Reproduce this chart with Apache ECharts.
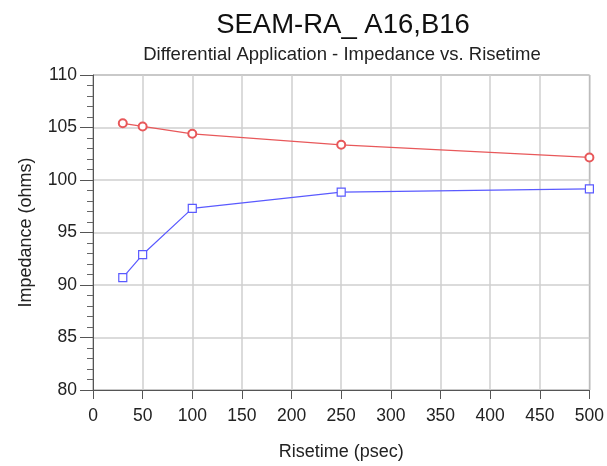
<!DOCTYPE html>
<html>
<head>
<meta charset="utf-8">
<script src="https://cdn.jsdelivr.net/npm/echarts@6/dist/echarts.min.js"></script>
<style>
    html, body { margin: 0; padding: 0; background: #fff; }
    #chart { width: 607px; height: 466px; }
</style>
</head>
<body>
<div id="chart"></div>
<script>
// 数据
const risetime = [30, 50, 100, 250, 500];
const redImpedance = [105.4, 105.1, 104.4, 103.35, 102.15];
const blueImpedance = [90.7, 92.9, 97.3, 98.85, 99.15];

const toPairs = (xs, ys) => xs.map((x, i) => [x, ys[i]]);

const chart = echarts.init(document.getElementById('chart'));
const font = 'Liberation Sans, Arial, sans-serif';

const option = {
    animation: false,
    title: [
        {
            text: 'SEAM-RA_ A16,B16',
            left: 338, top: 6, textAlign: 'center',
            textStyle: { fontFamily: font, fontSize: 27.5, fontWeight: 'normal', color: '#111' }
        },
        {
            text: 'Differential Application - Impedance vs. Risetime',
            left: 337, top: 40, textAlign: 'center',
            textStyle: { fontFamily: font, fontSize: 18.5, fontWeight: 'normal', color: '#222' }
        }
    ],
    grid: { left: 93, right: 16, top: 75, bottom: 75, show: true, borderColor: '#777', borderWidth: 1 },
    xAxis: {
        type: 'value',
        min: 0, max: 500, interval: 50,
        name: 'Risetime (psec)',
        nameLocation: 'middle', nameGap: 53,
        nameTextStyle: { fontFamily: font, fontSize: 18, color: '#222' },
        axisLine: { show: true, lineStyle: { color: '#555' } },
        axisTick: { show: true, length: 9, lineStyle: { color: '#555' } },
        axisLabel: { fontFamily: font, fontSize: 17.5, color: '#222', margin: 17 },
        splitLine: { show: true, lineStyle: { color: '#cfcfcf', width: 1.5 } }
    },
    yAxis: {
        type: 'value',
        min: 80, max: 110, interval: 5,
        name: 'Impedance (ohms)',
        nameLocation: 'middle', nameGap: 58,
        nameTextStyle: { fontFamily: font, fontSize: 18, color: '#222' },
        axisLine: { show: true, lineStyle: { color: '#555' } },
        axisTick: { show: true, length: 13, lineStyle: { color: '#555' } },
        minorTick: { show: true, splitNumber: 5, length: 6, lineStyle: { color: '#666' } },
        axisLabel: { fontFamily: font, fontSize: 17.5, color: '#222', margin: 16 },
        splitLine: { show: true, lineStyle: { color: '#cfcfcf', width: 1.5 } }
    },
    series: [
        {
            name: 'red',
            type: 'line',
            data: toPairs(risetime, redImpedance),
            symbol: 'emptyCircle',
            symbolSize: 8,
            lineStyle: { color: '#e8585a', width: 1.2 },
            itemStyle: { color: '#e8585a', borderWidth: 1.2 }
        },
        {
            name: 'blue',
            type: 'line',
            data: toPairs(risetime, blueImpedance),
            symbol: 'rect',
            symbolSize: 8,
            lineStyle: { color: '#5a5aff', width: 1.2 },
            itemStyle: { color: '#fff', borderColor: '#5a5aff', borderWidth: 1.2 }
        }
    ]
};

chart.setOption(option);
</script>
</body>
</html>
